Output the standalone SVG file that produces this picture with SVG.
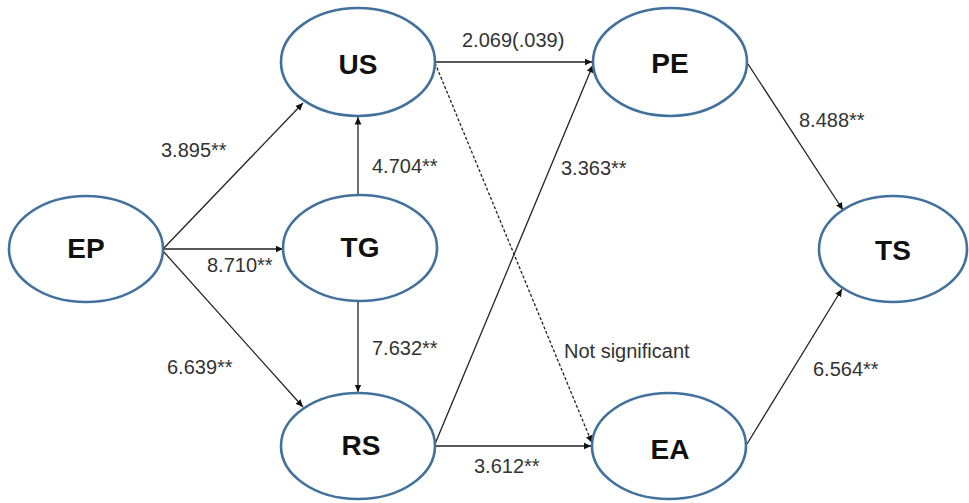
<svg xmlns="http://www.w3.org/2000/svg" width="969" height="503" viewBox="0 0 969 503">
<style>
.node ellipse{fill:#fff;stroke:#41719c;stroke-width:2.6}
.node text{font-family:"Liberation Sans",Arial,sans-serif;font-weight:bold;font-size:28px;fill:#111;text-anchor:middle}
.edge{stroke:#222;stroke-width:1.3;fill:none;marker-end:url(#ah)}
.dash{stroke-dasharray:3,2}
.lbl{font-family:"Liberation Sans",Arial,sans-serif;font-size:20px;fill:#333}
</style>
<defs>
<marker id="ah" viewBox="0 0 10 10" refX="10" refY="5" markerWidth="7.5" markerHeight="7.5" markerUnits="userSpaceOnUse" orient="auto"><path d="M0,0.5 L10,5 L0,9.5 Z" fill="#111"/></marker>
</defs>
<rect width="969" height="503" fill="#fff"/>
<g id="connectors">
<line class="edge" x1="163" y1="249" x2="303" y2="103"/>
<line class="edge" x1="163" y1="249" x2="283" y2="249"/>
<line class="edge" x1="163" y1="251" x2="303" y2="407"/>
<line class="edge" x1="358" y1="195" x2="358" y2="117"/>
<line class="edge" x1="358" y1="302" x2="358" y2="392"/>
<line class="edge" x1="435" y1="62" x2="592" y2="62"/>
<line class="edge dash" x1="435" y1="63" x2="592" y2="443"/>
<line class="edge" x1="435" y1="444" x2="593" y2="65"/>
<line class="edge" x1="435" y1="446" x2="591" y2="446"/>
<line class="edge" x1="748" y1="64" x2="843" y2="210"/>
<line class="edge" x1="747" y1="444" x2="842" y2="289"/>
</g>
<g id="labels">
<text class="lbl" x="161" y="157">3.895**</text>
<text class="lbl" x="207" y="272">8.710**</text>
<text class="lbl" x="167" y="374">6.639**</text>
<text class="lbl" x="372" y="173">4.704**</text>
<text class="lbl" x="372" y="355">7.632**</text>
<text class="lbl" x="462" y="47">2.069(.039)</text>
<text class="lbl" x="561" y="175">3.363**</text>
<text class="lbl" x="564" y="358">Not significant</text>
<text class="lbl" x="474" y="473">3.612**</text>
<text class="lbl" x="799" y="127">8.488**</text>
<text class="lbl" x="813" y="376">6.564**</text>
</g>
<g id="EP" class="node"><ellipse cx="86" cy="249" rx="77" ry="53"/><text x="86" y="258">EP</text></g>
<g id="US" class="node"><ellipse cx="358" cy="62" rx="77" ry="54"/><text x="358" y="74">US</text></g>
<g id="TG" class="node"><ellipse cx="360" cy="248" rx="77" ry="53"/><text x="360" y="257">TG</text></g>
<g id="RS" class="node"><ellipse cx="358" cy="446" rx="77" ry="53"/><text x="361" y="455">RS</text></g>
<g id="PE" class="node"><ellipse cx="670" cy="62" rx="77" ry="54"/><text x="670" y="73">PE</text></g>
<g id="EA" class="node"><ellipse cx="669" cy="446" rx="77" ry="53"/><text x="670" y="459">EA</text></g>
<g id="TS" class="node"><ellipse cx="893" cy="249" rx="74" ry="53"/><text x="893" y="260">TS</text></g>
</svg>
